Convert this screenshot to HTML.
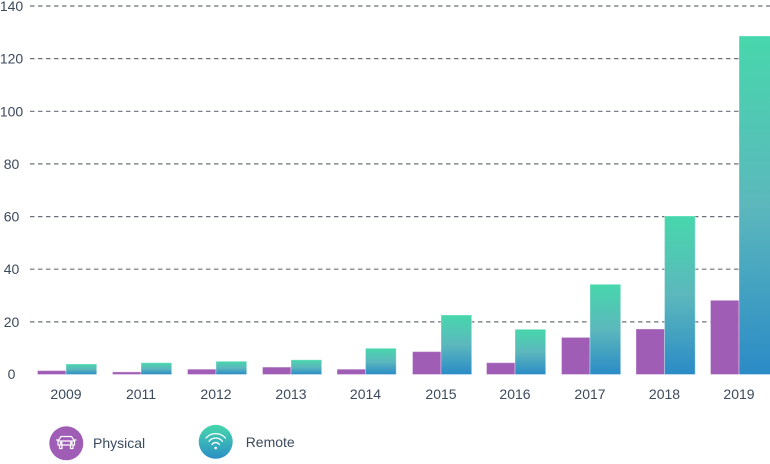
<!DOCTYPE html>
<html>
<head>
<meta charset="utf-8">
<style>
html,body{margin:0;padding:0;background:#fff;}
body{width:770px;height:464px;overflow:hidden;}
svg{display:block;font-family:"Liberation Sans",Arial,sans-serif;}
</style>
</head>
<body>
<svg width="770" height="464" viewBox="0 0 770 464" xmlns="http://www.w3.org/2000/svg">
<defs>
<linearGradient id="g" x1="0" y1="0" x2="0" y2="1">
<stop offset="0" stop-color="#47d7ac"/>
<stop offset="0.5" stop-color="#5cb8bc"/>
<stop offset="1" stop-color="#2b8bc6"/>
</linearGradient>
<linearGradient id="gl" x1="0" y1="0" x2="0" y2="1">
<stop offset="0" stop-color="#47d7ac"/>
<stop offset="1" stop-color="#2b8fc6"/>
</linearGradient>
</defs>
<g stroke="#6b727c" stroke-width="1.2" stroke-dasharray="4.5,3.5">
<line x1="30" y1="6" x2="770" y2="6"/>
<line x1="30" y1="58.6" x2="770" y2="58.6"/>
<line x1="30" y1="111.3" x2="770" y2="111.3"/>
<line x1="30" y1="163.9" x2="770" y2="163.9"/>
<line x1="30" y1="216.6" x2="770" y2="216.6"/>
<line x1="30" y1="269.2" x2="770" y2="269.2"/>
<line x1="30" y1="321.9" x2="770" y2="321.9"/>
</g>
<g fill="#3b4a5e" font-size="14" text-anchor="middle">
<text x="11.5" y="11">140</text>
<text x="11.5" y="63.6">120</text>
<text x="11.5" y="116.3">100</text>
<text x="11.5" y="168.9">80</text>
<text x="11.5" y="221.6">60</text>
<text x="11.5" y="274.2">40</text>
<text x="11.5" y="326.9">20</text>
<text x="11.5" y="379">0</text>
</g>
<g stroke="#ffffff" stroke-opacity="0.35" stroke-width="1">
<!-- physical -->
<rect x="37.5" y="370.6" width="28.5" height="3.9" fill="#a05db5"/>
<rect x="112.5" y="371.9" width="28.5" height="2.6" fill="#a05db5"/>
<rect x="187.5" y="369.2" width="28.5" height="5.3" fill="#a05db5"/>
<rect x="262.5" y="367.1" width="28.5" height="7.4" fill="#a05db5"/>
<rect x="337" y="369.2" width="28.5" height="5.3" fill="#a05db5"/>
<rect x="412.5" y="351.6" width="28.5" height="22.9" fill="#a05db5"/>
<rect x="486.5" y="362.7" width="28.5" height="11.8" fill="#a05db5"/>
<rect x="561.5" y="337.4" width="28.5" height="37.1" fill="#a05db5"/>
<rect x="636" y="329" width="28.5" height="45.5" fill="#a05db5"/>
<rect x="710.5" y="300.3" width="28.5" height="74.2" fill="#a05db5"/>
<!-- remote -->
<rect x="66" y="364" width="30.7" height="10.5" fill="url(#g)"/>
<rect x="141" y="362.7" width="30.7" height="11.8" fill="url(#g)"/>
<rect x="216" y="361.3" width="30.7" height="13.2" fill="url(#g)"/>
<rect x="291" y="359.8" width="30.7" height="14.7" fill="url(#g)"/>
<rect x="365.5" y="348.3" width="30.7" height="26.2" fill="url(#g)"/>
<rect x="441" y="315" width="30.7" height="59.5" fill="url(#g)"/>
<rect x="515" y="329.3" width="30.7" height="45.2" fill="url(#g)"/>
<rect x="590" y="284.3" width="30.7" height="90.2" fill="url(#g)"/>
<rect x="664.5" y="216" width="30.7" height="158.5" fill="url(#g)"/>
<rect x="739" y="36" width="32" height="338.5" fill="url(#g)"/>
</g>
<g fill="#3b4a5e" font-size="14" text-anchor="middle">
<text x="66" y="399">2009</text>
<text x="141" y="399">2011</text>
<text x="216" y="399">2012</text>
<text x="291" y="399">2013</text>
<text x="365.5" y="399">2014</text>
<text x="441" y="399">2015</text>
<text x="515" y="399">2016</text>
<text x="590" y="399">2017</text>
<text x="664.5" y="399">2018</text>
<text x="739" y="399">2019</text>
</g>
<!-- legend -->
<circle cx="66.3" cy="443.3" r="17" fill="#a05db5"/>
<g fill="none" stroke="#ffffff" stroke-width="1.2" stroke-linejoin="round" stroke-linecap="round">
<path d="M58 445 L58 441 L61 436.5 L71.5 436.5 L74.5 441 L74.5 445 Z"/>
<path d="M58.5 441 L74 441"/>
<path d="M59.5 445 L59.5 448.5 L62 448.5 L62 445"/>
<path d="M70.5 445 L70.5 448.5 L73 448.5 L73 445"/>
<circle cx="61.2" cy="443" r="0.8"/>
<circle cx="71.3" cy="443" r="0.8"/>
<path d="M56.5 440 L58.5 440 M74 440 L76 440"/>
</g>
<text x="93" y="448" font-size="14" fill="#3b4a5e">Physical</text>
<circle cx="215.7" cy="441.8" r="17" fill="url(#gl)"/>
<g fill="none" stroke="#ffffff" stroke-width="1.3" stroke-linecap="round">
<path d="M206 438 A13 13 0 0 1 225.4 438"/>
<path d="M209 441.3 A8.5 8.5 0 0 1 222.4 441.3"/>
<path d="M212 444.5 A4.5 4.5 0 0 1 219.4 444.5"/>
</g>
<circle cx="215.7" cy="448" r="1.3" fill="#ffffff"/>
<text x="245.7" y="447" font-size="14" fill="#3b4a5e">Remote</text>
</svg>
</body>
</html>
